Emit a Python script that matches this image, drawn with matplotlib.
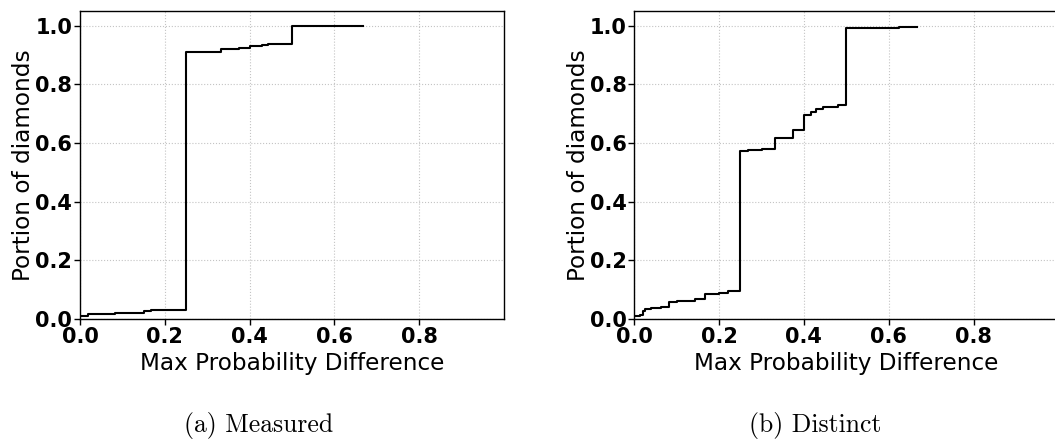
import matplotlib
matplotlib.use("Agg")
import matplotlib.pyplot as plt
import numpy as np

# Panel (a) Measured: step CDF
measured_x = [0.0, 0.02, 0.083, 0.15, 0.167, 0.25, 0.333, 0.375, 0.4, 0.4286, 0.444, 0.5, 0.667]
measured_y = [0.010, 0.017, 0.021, 0.027, 0.030, 0.911, 0.919, 0.925, 0.930, 0.933, 0.936, 1.0, 1.0]

# Panel (b) Distinct: step CDF
distinct_x = [0.0, 0.0125, 0.02, 0.025, 0.04, 0.0625, 0.083, 0.1, 0.125, 0.143, 0.167, 0.2,
              0.222, 0.25, 0.267, 0.3, 0.333, 0.375, 0.4, 0.417, 0.4286, 0.444, 0.48, 0.5,
              0.625, 0.667]
distinct_y = [0.010, 0.014, 0.028, 0.034, 0.038, 0.042, 0.057, 0.060, 0.063, 0.067, 0.085, 0.087,
              0.094, 0.574, 0.577, 0.579, 0.617, 0.644, 0.695, 0.706, 0.716, 0.722, 0.730, 0.992,
              0.995, 0.995]

xticks = [0.0, 0.2, 0.4, 0.6, 0.8]
yticks = [0.0, 0.2, 0.4, 0.6, 0.8, 1.0]
xlabel = "Max Probability Difference"
ylabel = "Portion of diamonds"
captions = ["(a) Measured", "(b) Distinct"]

W, H = 1055, 440
fig = plt.figure(figsize=(W / 100, H / 100), dpi=100)

axes_px = [(80, 11, 424, 308), (634.3, 11, 424, 308)]
caption_x = [259, 815]
series = [(measured_x, measured_y), (distinct_x, distinct_y)]

for (l, t, w, h), (xs, ys), cap, cx in zip(axes_px, series, captions, caption_x):
    ax = fig.add_axes([l / W, (H - t - h) / H, w / W, h / H])
    ax.step(xs, ys, where="post", color="black", lw=1.5)
    ax.set_xlim(0, 1.0)
    ax.set_ylim(0, 1.05)
    ax.set_xticks(xticks)
    ax.set_yticks(yticks)
    ax.set_xticklabels([f"{v:.1f}" for v in xticks], fontweight="bold", fontsize=15)
    ax.set_yticklabels([f"{v:.1f}" for v in yticks], fontweight="bold", fontsize=15)
    ax.tick_params(direction="out", length=4, width=1, pad=1.5)
    ax.grid(True, linestyle=":", color="#c4c4c4", lw=0.8)
    ax.set_xlabel(xlabel, fontsize=16.7, labelpad=4)
    ax.set_ylabel(ylabel, fontsize=16.7, labelpad=0)
    for s in ax.spines.values():
        s.set_linewidth(1.0)
    fig.text(cx / W, 1 - 425 / H, cap, fontsize=18.5, family="cmr10", ha="center", va="center")

fig.savefig("out.png", dpi=100)
